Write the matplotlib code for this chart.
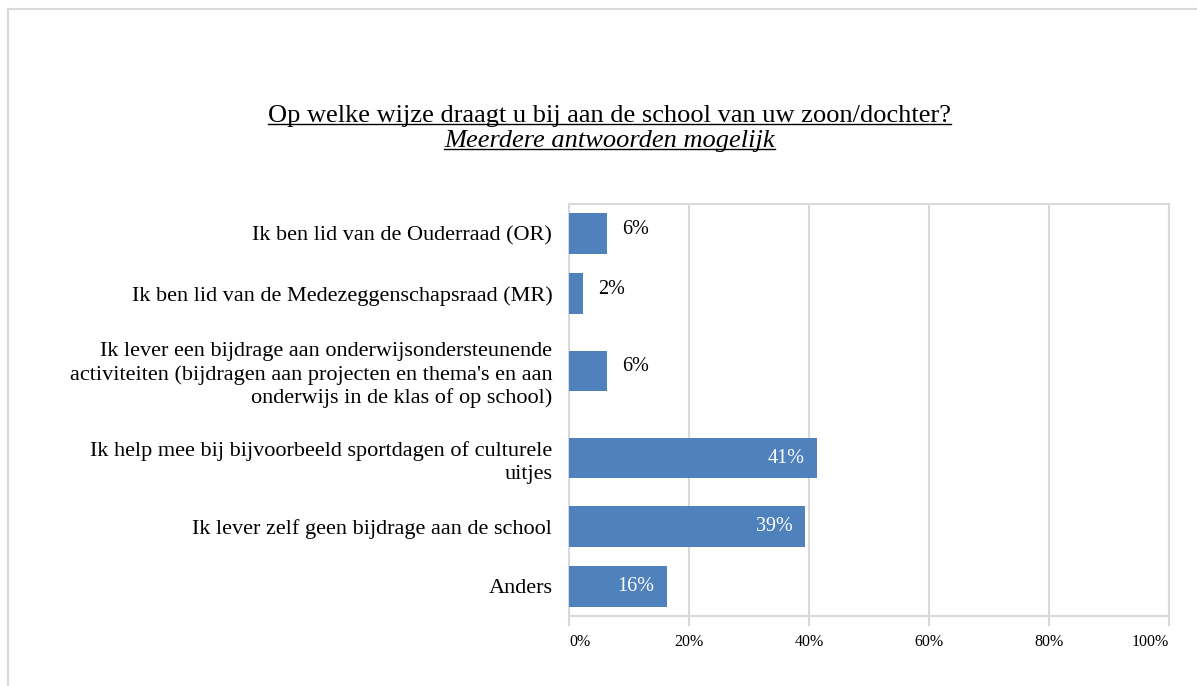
import numpy as np
import matplotlib.pyplot as plt
from matplotlib.patches import Rectangle
from matplotlib.lines import Line2D

plt.rcParams['font.family'] = ['Liberation Serif', 'DejaVu Serif']

categories = [
    "Ik ben lid van de Ouderraad (OR)",
    "Ik ben lid van de Medezeggenschapsraad (MR)",
    "Ik lever een bijdrage aan onderwijsondersteunende\nactiviteiten (bijdragen aan projecten en thema's en aan\nonderwijs in de klas of op school)",
    "Ik help mee bij bijvoorbeeld sportdagen of culturele\nuitjes",
    "Ik lever zelf geen bijdrage aan de school",
    "Anders",
]
values = [6.3, 2.3, 6.3, 41.3, 39.3, 16.3]
xticks = [0, 20, 40, 60, 80, 100]
title = "Op welke wijze draagt u bij aan de school van uw zoon/dochter?"
subtitle = "Meerdere antwoorden mogelijk"

blue = '#4F81BD'
grid = '#D9D9D9'

W, H = 1197, 686
fig = plt.figure(figsize=(W / 100, H / 100), dpi=100)

# outer frame (runs off the right and bottom edge like the screenshot)
fig.patches.append(Rectangle((8 / W, -0.05), 1.1, 1 - 9 / H + 0.05,
                             transform=fig.transFigure, fill=False,
                             edgecolor=grid, linewidth=1.5))

ax = fig.add_axes([569 / W, 1 - 616 / H, 600 / W, (616 - 204) / H])

# category slots grow with the number of label lines
nlines = np.array([c.count('\n') + 1 for c in categories])
slots = 1 + 0.308 * (nlines - 1)
edges = np.concatenate([[0], np.cumsum(slots)])
ypos = (edges[:-1] + edges[1:]) / 2

ax.barh(ypos, values, height=0.683, color=blue, zorder=3)

for y, v in zip(ypos, values):
    lbl = f"{v:.0f}%"
    if v > 10:
        ax.annotate(lbl, (v, y), xytext=(-9, 0), textcoords='offset points',
                    ha='right', va='center', color='white', fontsize=14.5)
    else:
        ax.annotate(lbl, (v, y), xytext=(11, 3), textcoords='offset points',
                    ha='left', va='center', color='black', fontsize=14.5)

ax.set_xlim(0, 100)
ax.set_ylim(edges[-1], 0)
ax.set_yticks(ypos)
ax.set_yticklabels(categories, fontsize=16, ha='right', linespacing=1.25)
ax.tick_params(axis='y', length=0, pad=12)
ax.set_xticks(xticks)
ax.set_xticklabels([f"{t}%" for t in xticks], fontsize=11.5)
ax.tick_params(axis='x', length=7, width=1.5, color=grid, pad=6)
tl = ax.get_xticklabels()
tl[0].set_ha('left')
tl[-1].set_ha('right')

ax.grid(axis='x', color=grid, linewidth=1.5, zorder=0)
for s in ax.spines.values():
    s.set_color(grid)
    s.set_linewidth(1.5)

# title with underline
t1 = fig.text(609.5 / W, 1 - 116 / H, title, ha='center', va='center', fontsize=19)
t2 = fig.text(609.5 / W, 1 - 141 / H, subtitle, ha='center', va='center',
              fontsize=19, style='italic')
fig.canvas.draw()
r = fig.canvas.get_renderer()
for t in (t1, t2):
    bb = t.get_window_extent(r)
    yb = bb.y0 + 3
    fig.add_artist(Line2D([bb.x0 / W, bb.x1 / W], [yb / H, yb / H],
                          transform=fig.transFigure, color='black', linewidth=1))

fig.savefig('out.png', dpi=100)
